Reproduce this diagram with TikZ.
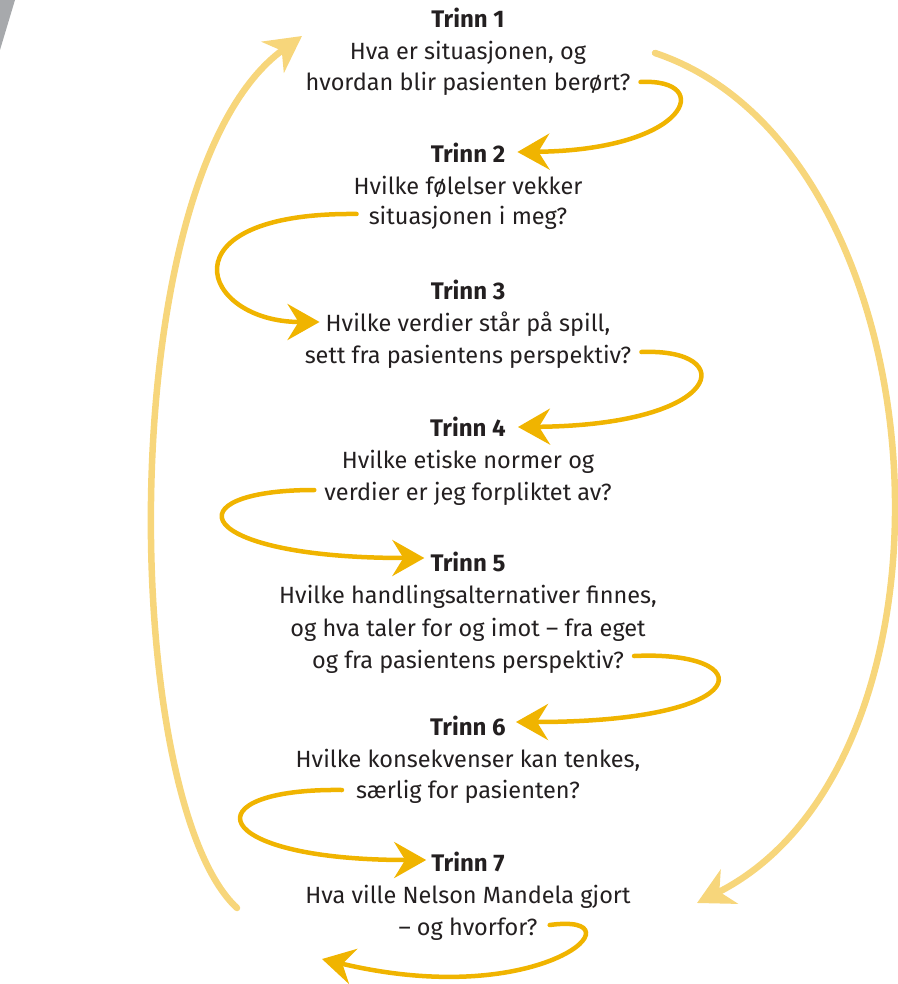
\documentclass[tikz,border=0pt]{standalone}
\usepackage{fontspec}
\setmainfont{Fira Sans}
\usetikzlibrary{arrows.meta,calc}
\definecolor{darky}{HTML}{F0B400}
\definecolor{lighty}{HTML}{F7D67B}
\definecolor{txtc}{HTML}{231F20}
\definecolor{greyc}{HTML}{A7A9AC}
\begin{document}
\begin{tikzpicture}[x=1pt,y=-1pt,
  body/.style={anchor=base, text=txtc, inner sep=0pt, font=\fontsize{23.5}{28}\selectfont},
  head/.style={body, font=\fontsize{24}{28}\selectfont\bfseries},
  darr/.style={draw=darky, line width=4.5pt, line cap=round, -{Stealth[length=32pt,width=36pt,inset=11pt]}},
  larr/.style={draw=lighty, line width=6.5pt, line cap=round, -{Stealth[length=36pt,width=38pt,inset=11pt]}}]
\useasboundingbox (0,0) rectangle (897,984);
\fill[greyc] (0,0) -- (15,0) -- (0,50) -- cycle;

\node[head] (h1) at (468,28) {Trinn 1};
\node[body] (a1) at (468,60) {Hva er situasjonen, og};
\node[body] (b1) at (468,91) {hvordan blir pasienten berørt?};

\node[head] (h2) at (468,163) {Trinn 2};
\node[body] (a2) at (468,195) {Hvilke følelser vekker};
\node[body] (b2) at (468,225) {situasjonen i meg?};

\node[head] (h3) at (468,299) {Trinn 3};
\node[body] (a3) at (468,331) {Hvilke verdier står på spill,};
\node[body] (b3) at (468,363) {sett fra pasientens perspektiv?};

\node[head] (h4) at (468,436) {Trinn 4};
\node[body] (a4) at (468,468) {Hvilke etiske normer og};
\node[body] (b4) at (468,500) {verdier er jeg forpliktet av?};

\node[head] (h5) at (468,571) {Trinn 5};
\node[body] (a5) at (468,603) {Hvilke handlingsalternativer finnes,};
\node[body] (b5) at (468,636) {og hva taler for og imot – fra eget};
\node[body] (c5) at (468,668) {og fra pasientens perspektiv?};

\node[head] (h6) at (468,735) {Trinn 6};
\node[body] (a6) at (468,767) {Hvilke konsekvenser kan tenkes,};
\node[body] (b6) at (468,798) {særlig for pasienten?};

\node[head] (h7) at (468,871) {Trinn 7};
\node[body] (a7) at (468,903) {Hva ville Nelson Mandela gjort};
\node[body] (b7) at (468,935) {– og hvorfor?};

\coordinate (back) at (322,959);
\coordinate (lstart) at (237,908);
\coordinate (lend) at (302,36);
\coordinate (rstart) at (655,53);
\coordinate (rend) at (697,903);

% big light arcs
\draw[larr] (lstart) .. controls (120,800) and (110,175) .. (lend);
\draw[larr] (rstart) .. controls (945,150) and (980,760) .. (rend);

% dark step arrows
\draw[darr] ($(b1.base east)+(10,-9)$) .. controls (715,78) and (690,150) .. ($(h2.base east)+(12,-11)$);
\draw[darr] ($(b2.base west)+(-12,-11)$) .. controls (160,212) and (200,322) .. ($(a3.base west)+(-6,-9)$);
\draw[darr] ($(b3.base east)+(10,-11)$) .. controls (740,348) and (725,425) .. ($(h4.base east)+(12,-9)$);
\draw[darr] ($(b4.base west)+(-10,-10)$) .. controls (170,490) and (190,558) .. ($(h5.base west)+(-6,-13)$);
\draw[darr] ($(c5.base east)+(10,-12)$) .. controls (760,650) and (760,722) .. ($(h6.base east)+(10,-13)$);
\draw[darr] ($(b6.base west)+(-14,-8)$) .. controls (190,788) and (205,860) .. ($(h7.base west)+(-5,-11)$);
\draw[darr] ($(b7.base east)+(12,-10)$) .. controls (645,912) and (545,1012) .. (back);
\end{tikzpicture}
\end{document}
